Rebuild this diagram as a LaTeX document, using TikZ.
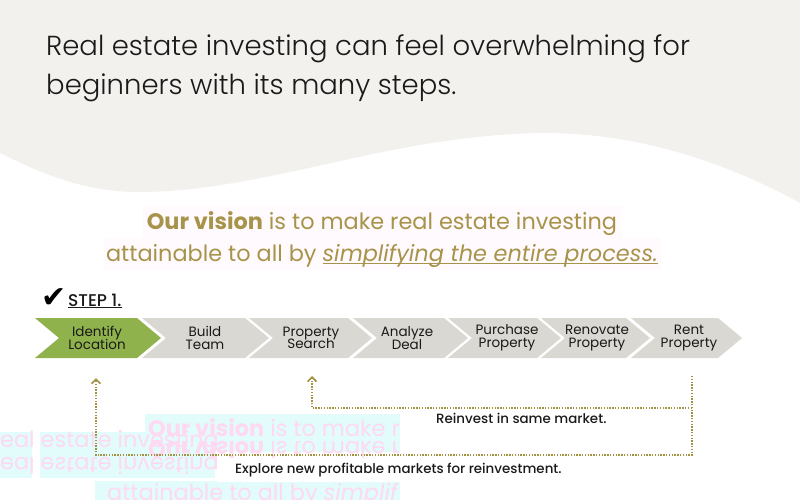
\documentclass[tikz,border=0pt]{standalone}
\usepackage{fontspec}
\setmainfont{Poppins}
\IfFontExistsTF{Poppins Light}{\newfontfamily\lightfont{Poppins Light}}{\newfontfamily\lightfont{Poppins}}
\IfFontExistsTF{Poppins Medium}{\newfontfamily\medfont{Poppins Medium}}{\newfontfamily\medfont{Poppins}}
\newfontfamily\symfont{DejaVu Sans}
\usetikzlibrary{arrows.meta}
\definecolor{bggray}{HTML}{F2F1EE}
\definecolor{gold}{HTML}{A8934A}
\definecolor{chgreen}{HTML}{8FB24C}
\definecolor{chgray}{HTML}{D9D8D2}
\definecolor{dotc}{HTML}{A39241}
\definecolor{ink}{HTML}{1A1A1A}
\definecolor{ghostpink}{HTML}{FFD8F2}
\definecolor{ghostcyan}{HTML}{E2FCFC}
\definecolor{tintpink}{HTML}{FFFAFD}
\newsavebox\ulbox
\newcommand\ulx[2][2.6pt]{\sbox\ulbox{#2}\rlap{\rule[-#1]{\wd\ulbox}{0.9pt}}\usebox\ulbox}
\newcommand\tightlines{\lineskiplimit=-20pt\relax\lineskip=0pt\relax}
\tikzset{
  heading/.style={anchor=base west, inner sep=0pt, text=ink, font=\lightfont\fontsize{27.5}{30}\selectfont},
  vision/.style={anchor=base, inner sep=0pt, text=gold, font=\fontsize{22.4}{24}\selectfont},
  ghost/.style={anchor=base west, inner sep=0pt, text=ghostpink, font=\fontsize{22.4}{24}\selectfont},
  chevtext/.style={align=center, inner sep=0pt, text=ink, font=\fontsize{13.5}{12.5}\selectfont\tightlines},
  label/.style={inner sep=0pt, text=ink, font=\medfont\fontsize{13.4}{14}\selectfont},
  dotline/.style={draw=dotc, line width=1.4pt, dash pattern=on 1.4pt off 1.4pt},
  tip/.style={-{Straight Barb[length=4.5pt,width=9pt,line width=1.6pt]}}
}
\begin{document}
\begin{tikzpicture}[x=1pt,y=-1pt]
\useasboundingbox (0,0) rectangle (800,500);
\fill[white] (0,0) rectangle (800,500);
% wavy top background
\fill[bggray] (0,0) -- (800,0) -- (800,203)
  .. controls (740,170) and (650,133) .. (545,133)
  .. controls (520,133) and (480,135) .. (420,145)
  .. controls (330,160) and (230,192) .. (140,192)
  .. controls (90,192) and (50,178) .. (0,153) -- cycle;

% heading
\node[heading] (h1) at (46,56) {Real estate investing can feel overwhelming for};
\node[heading] (h2) at (46,95) {beginners with its many steps.};

% vision statement
\fill[tintpink] (143,206) rectangle (622,238);
\fill[tintpink] (104,238) rectangle (661,270);
\node[vision] (v1) at (382,229) {\textbf{Our vision} is to make real estate investing};
\node[vision] (v2) at (382,261) {attainable to all by \ulx{\itshape simplifying the entire process.}};

% step marker
\node[anchor=base west, inner sep=0pt, text=black, font=\symfont\fontsize{30}{30}\selectfont] (chk) at (41,307) {✔};
\node[anchor=base west, inner sep=0pt, text=ink, font=\medfont\fontsize{17}{17}\selectfont] (step) at (68,306) {\ulx[2.2pt]{STEP 1.}};

% chevrons
\foreach \L/\R/\col in {35/137/chgreen, 142/245/chgray, 249/348/chgray, 353/444/chgray, 448/537/chgray, 541/626/chgray, 631/718/chgray}{
  \fill[\col] (\L,318) -- (\R,318) -- (\R+24,338) -- (\R,358) -- (\L,358) -- (\L+24,338) -- cycle;
}
\node[chevtext] (c1) at (97,338) {Identify\\Location};
\node[chevtext] (c2) at (205,338) {Build\\Team};
\node[chevtext] (c3) at (311,338) {Property\\Search};
\node[chevtext] (c4) at (407,338) {Analyze\\Deal};
\node[chevtext] (c5) at (507,338) {Purchase\\Property};
\node[chevtext] (c6) at (597,338) {Renovate\\Property};
\node[chevtext] (c7) at (689,338) {Rent\\Property};

% ghost artefacts
\begin{scope}
\clip (0,410) rectangle (400,500);
\fill[ghostcyan] (145,414) rectangle (400,452);
\fill[ghostcyan] (0,432) rectangle (32,478);
\fill[ghostcyan] (40,432) rectangle (215,478);
\fill[ghostcyan] (95,481) rectangle (400,500);
\node[ghost] (g1) at (148,436) {\textbf{Our vision} is to make r};
\node[ghost, yscale=-1, transform shape] (g2) at (148,441) {\textbf{Our vision} is to make r};
\node[ghost] (g3) at (0,447) {eal estate investing};
\node[ghost, yscale=-1, transform shape] (g4) at (0,457) {eal estate investing};
\node[ghost] (g5) at (107,500) {attainable to all by \itshape simplif};
\end{scope}

% loop connectors
\coordinate (rtop) at (692,376);
\coordinate (rmid) at (692,408);
\coordinate (rbot) at (692,455);
\coordinate (mbot) at (312,408);
\coordinate (mtop) at (312,376);
\coordinate (lbot) at (96,455);
\coordinate (ltop) at (96,378);
\draw[dotline, tip] (rtop) -- (rbot) -- (lbot) -- (ltop);
\draw[dotline, tip] (rmid) -- (mbot) -- (mtop);

\node[label, anchor=base west] (l1) at (436,423) {Reinvest in same market.};
\node[label, anchor=base west, fill=white, inner xsep=18pt, inner ysep=5pt] (l2) at (217,473) {Explore new profitable markets for reinvestment.};
\end{tikzpicture}
\end{document}
